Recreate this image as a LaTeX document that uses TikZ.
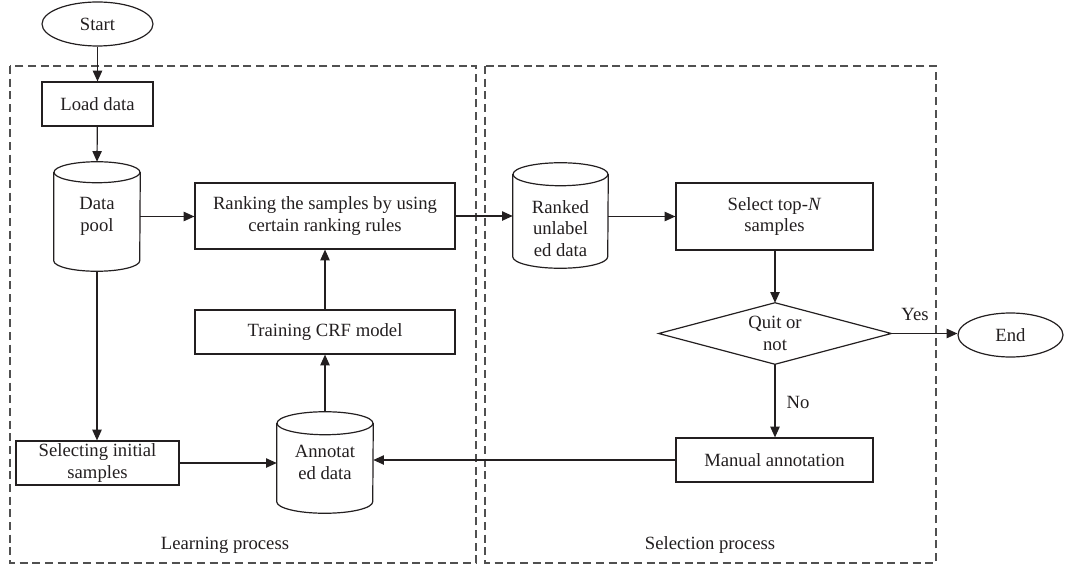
\documentclass[tikz,border=0pt]{standalone}
\usepackage{fontspec}
\setmainfont{Liberation Serif}
\usetikzlibrary{arrows.meta,shapes.geometric,calc}
\definecolor{ink}{HTML}{231F20}
\definecolor{dashc}{HTML}{505050}
\begin{document}
\begin{tikzpicture}[x=0.75pt,y=-0.75pt,
  every node/.style={font=\fontsize{14}{16}\selectfont, text=ink, align=center, inner sep=0pt},
  box/.style={draw=ink, line width=0.9pt, rectangle, minimum width=#1},
  term/.style={draw=ink, line width=0.9pt, ellipse, minimum width=111*0.75pt, minimum height=44*0.75pt},
  cylgeo/.style={draw=none, rectangle},
  conn/.style={draw=ink, line width=0.9pt, -{Triangle[length=8pt,width=7pt]}},
  region/.style={draw=dashc, line width=0.8pt, dash pattern=on 6pt off 3.5pt},
  outline/.style={draw=ink, line width=0.9pt}
]
\useasboundingbox (0,0) rectangle (1067,567);

% dashed regions
\draw[region] (10,66) rectangle (476,563);
\draw[region] (485,66) rectangle (936,563);
\node (learn) at (225,545) {Learning process};
\node (selp) at (710,545) {Selection process};

% terminals
\node[term] (start) at (97.5,24) {Start};
\node[term, minimum width=105*0.75pt] (end) at (1010.5,335) {End};

% boxes
\node[box=111*0.75pt, minimum height=44*0.75pt] (load) at (97.5,104) {Load data};
\node[box=260*0.75pt, minimum height=66*0.75pt] (rank) at (325,216) {Ranking the samples by using\\certain ranking rules};
\node[box=260*0.75pt, minimum height=44*0.75pt] (train) at (325,332) {Training CRF model};
\node[box=197*0.75pt, minimum height=67*0.75pt] (select) at (774.5,216.5) {Select top-\textit{N}\\samples};
\node[box=197*0.75pt, minimum height=44*0.75pt] (manual) at (774.5,460) {Manual annotation};
\node[box=163*0.75pt, minimum height=44*0.75pt] (selinit) at (97.5,463) {Selecting initial\\samples};

% diamond
\node[cylgeo, minimum width=232*0.75pt, minimum height=61*0.75pt] (quit) at (775,333.5) {Quit or\\not};
\draw[outline] (quit.north) -- (quit.east) -- (quit.south) -- (quit.west) -- cycle;

% cylinders
\node[cylgeo, minimum width=86*0.75pt, minimum height=109*0.75pt] (pool) at (97,216.5) {Data\\pool};
\node[cylgeo, minimum width=95*0.75pt, minimum height=105*0.75pt,
  label={[yshift=-9.75pt, align=center, font=\fontsize{14}{16}\selectfont, text=ink]center:Ranked\\unlabel\\ed data}] (ranked) at (560.5,215.5) {};
\node[cylgeo, minimum width=96*0.75pt, minimum height=101*0.75pt] (annot) at (325,462.5) {Annotat\\ed data};

\draw[outline] ($(pool.north west)+(0,10.5)$) -- ($(pool.south west)+(0,-10.5)$)
  arc[start angle=180, end angle=0, x radius=43, y radius=10.5] -- ($(pool.north east)+(0,10.5)$);
\draw[outline] ($(pool.north)+(0,10.5)$) ellipse [x radius=43, y radius=10.5];

\draw[outline] ($(ranked.north west)+(0,11.5)$) -- ($(ranked.south west)+(0,-11.5)$)
  arc[start angle=180, end angle=0, x radius=47.5, y radius=11.5] -- ($(ranked.north east)+(0,11.5)$);
\draw[outline] ($(ranked.north)+(0,11.5)$) ellipse [x radius=47.5, y radius=11.5];

\draw[outline] ($(annot.north west)+(0,11.5)$) -- ($(annot.south west)+(0,-11.5)$)
  arc[start angle=180, end angle=0, x radius=48, y radius=11.5] -- ($(annot.north east)+(0,11.5)$);
\draw[outline] ($(annot.north)+(0,11.5)$) ellipse [x radius=48, y radius=11.5];

% connectors
\draw[conn] (start) -- (load);
\draw[conn] (load) -- (pool.north);
\draw[conn] (pool.east) -- (rank.west |- pool.east);
\draw[conn] (rank.east) -- (ranked.west |- rank.east);
\draw[conn] (ranked.east |- select.west) -- (select.west);
\draw[conn] (select.south -| quit.north) -- (quit.north);
\draw[conn] (quit.east) -- (end.west |- quit.east);
\draw[conn] (quit.south) -- (manual.north -| quit.south);
\draw[conn] (manual.west) -- (annot.east |- manual.west);
\draw[conn] (pool.south) -- (selinit.north -| pool.south);
\draw[conn] (selinit.east) -- (annot.west |- selinit.east);
\draw[conn] (annot.north) -- (train.south);
\draw[conn] (train.north) -- (rank.south);

\node (yes) at (915,314) {Yes};
\node (no) at (798,402) {No};
\end{tikzpicture}
\end{document}
